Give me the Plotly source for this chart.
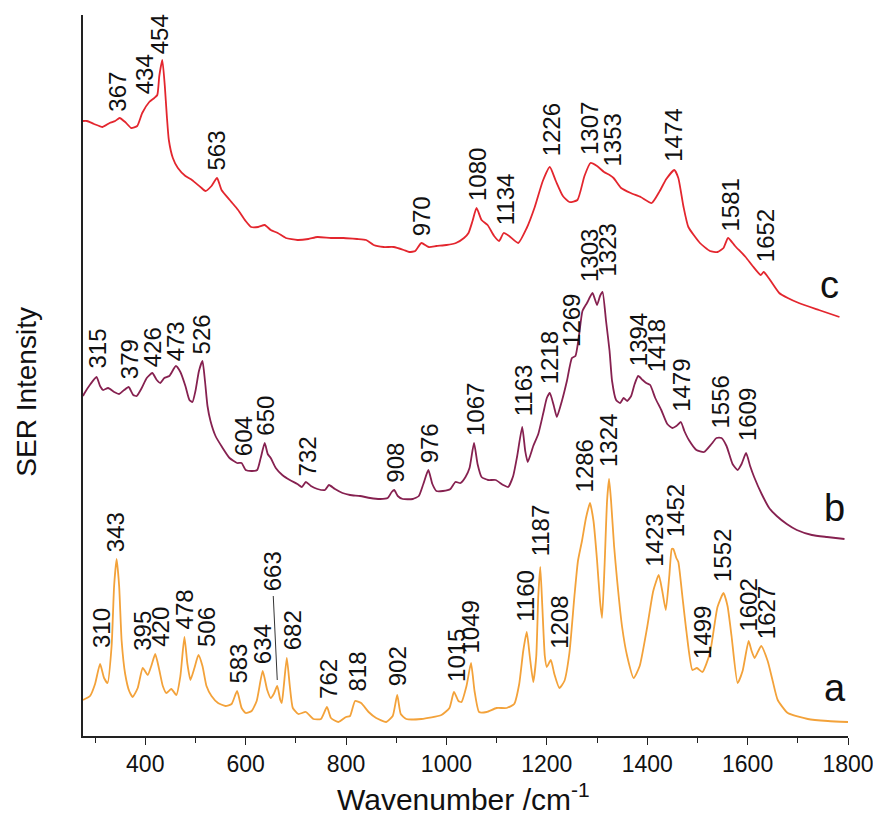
import plotly.graph_objects as go

# ---------------- data (wavenumber / cm-1, SER intensity a.u.) ----------------
wn_a = [276, 290, 300, 310, 318, 325, 333, 338, 343, 348, 353, 360, 368, 375, 385, 395, 405, 412, 420, 428,
        435, 442, 452, 462, 470, 478, 484, 490, 498, 506, 514, 522, 532, 545, 560, 572, 583, 592, 600, 612,
        622, 634, 643, 650, 656, 663, 669, 672, 676, 682, 688, 694, 705, 720, 735, 750, 762, 770, 785, 800,
        808, 818, 830, 845, 860, 880, 893, 902, 909, 920, 950, 990, 1006, 1015, 1024, 1030, 1040, 1049, 1056, 1065,
        1080, 1100, 1120, 1135, 1145, 1153, 1160, 1166, 1173, 1179, 1183, 1187, 1191, 1196, 1200, 1208, 1215, 1225, 1235, 1245,
        1255, 1262, 1270, 1278, 1286, 1293, 1300, 1306, 1310, 1315, 1320, 1324, 1328, 1334, 1340, 1350, 1360, 1373, 1385, 1400,
        1412, 1423, 1430, 1437, 1444, 1449, 1452, 1458, 1462, 1470, 1478, 1490, 1499, 1510, 1525, 1540, 1552, 1560, 1568, 1580,
        1590, 1602, 1608, 1614, 1627, 1640, 1650, 1660, 1680, 1720, 1760, 1800]
int_a = [36, 40, 52, 72, 58, 53, 90, 150, 177, 150, 95, 62, 45, 39, 48, 68, 61, 70, 82, 66,
         50, 43, 47, 41, 60, 99, 72, 56, 68, 81, 70, 50, 40, 33, 30, 32, 45, 28, 23, 25,
         35, 65, 46, 38, 42, 50, 36, 33, 50, 78, 50, 28, 22, 24, 17, 17, 29, 18, 14, 19,
         20, 35, 33, 24, 18, 14, 20, 41, 22, 17, 17, 21, 28, 44, 35, 34, 50, 73, 45, 24,
         24, 28, 28, 32, 52, 85, 104, 80, 54, 80, 140, 169, 130, 80, 69, 76, 62, 48, 55, 83,
         140, 175, 195, 218, 233, 215, 176, 135, 118, 170, 235, 257, 235, 190, 156, 109, 80, 58, 70, 109,
         145, 161, 145, 126, 160, 187, 187, 178, 174, 140, 105, 66, 68, 64, 83, 129, 143, 130, 100, 53,
         65, 95, 85, 78, 90, 75, 55, 36, 23, 17, 15, 14]

wn_b = [276, 278, 291, 303, 310, 316, 326, 338, 348, 358, 367, 376, 383, 393, 403, 414, 423, 430, 438, 448,
        461, 470, 480, 488, 494, 500, 507, 514, 519, 524, 530, 540, 553, 568, 583, 592, 600, 613, 623, 630,
        638, 644, 650, 660, 673, 688, 703, 712, 720, 730, 743, 758, 766, 778, 793, 808, 828, 848, 868, 883,
        891, 896, 903, 913, 933, 945, 954, 964, 972, 980, 993, 1008, 1018, 1028, 1038, 1046, 1055, 1062, 1070, 1083,
        1098, 1113, 1123, 1133, 1141, 1151, 1157, 1162, 1173, 1183, 1193, 1200, 1206, 1214, 1220, 1230, 1240, 1250, 1257, 1264,
        1271, 1280, 1291, 1300, 1306, 1311, 1318, 1325, 1330, 1338, 1346, 1353, 1360, 1368, 1375, 1382, 1391, 1398, 1406, 1416,
        1428, 1440, 1450, 1458, 1467, 1474, 1483, 1498, 1513, 1528, 1538, 1548, 1558, 1570, 1580, 1588, 1597, 1605, 1613, 1628,
        1643, 1658, 1678, 1698, 1728, 1758, 1793]
int_b = [340, 342, 352, 359, 350, 346, 348, 344, 342, 346, 349, 341, 340, 348, 358, 363, 356, 353, 358, 360,
         370, 364, 350, 336, 334, 345, 365, 375, 355, 330, 315, 300, 289, 278, 273, 273, 266, 265, 266, 278,
         293, 282, 278, 268, 261, 256, 252, 249, 254, 250, 247, 246, 251, 247, 243, 241, 240, 238, 237, 238,
         244, 246, 240, 237, 237, 240, 252, 266, 252, 245, 245, 247, 254, 253, 259, 268, 293, 272, 259, 256,
         256, 251, 249, 260, 280, 309, 285, 274, 290, 302, 323, 338, 343, 330, 319, 335, 355, 378, 380, 400,
         425, 433, 443, 431, 440, 444, 415, 385, 355, 336, 333, 338, 335, 340, 352, 360, 356, 353, 351, 338,
         326, 312, 308, 310, 314, 305, 296, 286, 284, 292, 298, 298, 290, 272, 266, 272, 283, 270, 259, 242,
         228, 220, 212, 206, 201, 199, 197]

wn_c = [276, 284, 298, 315, 329, 340, 349, 360, 372, 384, 394, 408, 418, 424, 428, 434, 439, 443, 447, 455,
        465, 480, 493, 510, 520, 532, 543, 552, 570, 585, 600, 611, 625, 638, 650, 664, 680, 703, 725, 743,
        770, 795, 822, 840, 855, 875, 895, 915, 926, 938, 950, 965, 980, 1000, 1019, 1035, 1044, 1052, 1060, 1070,
        1082, 1095, 1105, 1114, 1125, 1143, 1160, 1176, 1192, 1206, 1218, 1232, 1245, 1261, 1275, 1287, 1300, 1314, 1325, 1333,
        1348, 1367, 1387, 1409, 1425, 1438, 1454, 1462, 1472, 1482, 1505, 1525, 1540, 1552, 1561, 1575, 1596, 1610, 1626, 1632,
        1642, 1663, 1680, 1702, 1742, 1783]
int_c = [615, 615, 612, 609, 613, 615, 618, 614, 608, 610, 623, 634, 638, 641, 660, 676, 650, 620, 596, 578,
         568, 560, 556, 549, 545, 550, 558, 546, 535, 526, 515, 509, 509, 511, 506, 503, 498, 496, 497, 499,
         498, 498, 497, 496, 491, 489, 489, 486, 484, 485, 493, 489, 490, 491, 493, 498, 503, 515, 528, 516,
         511, 500, 495, 503, 500, 493, 508, 529, 555, 569, 555, 540, 534, 536, 560, 573, 570, 564, 561, 558,
         548, 543, 539, 533, 545, 557, 566, 558, 530, 509, 493, 485, 484, 488, 498, 490, 479, 470, 461, 464,
         458, 443, 438, 433, 426, 419]

assert len(wn_a) == len(int_a) and len(wn_b) == len(int_b) and len(wn_c) == len(int_c)

# peak labels (text) for each spectrum
labels_a = ["310", "343", "395", "420", "478", "506", "583", "634", "663", "682", "762", "818", "902",
            "1015", "1049", "1160", "1187", "1208", "1286", "1324", "1423", "1452", "1499", "1552", "1602", "1627"]
labels_b = ["315", "379", "426", "473", "526", "604", "650", "732", "908", "976", "1067", "1163", "1218",
            "1269", "1303", "1323", "1394", "1418", "1479", "1556", "1609"]
labels_c = ["367", "434", "454", "563", "970", "1080", "1134", "1226", "1307", "1353", "1474", "1581", "1652"]

# label placement (x in wavenumber, y = bottom of text in intensity units)
lab_x_a = [312, 340, 393, 429, 478, 521, 584, 633, 653, 693, 764, 821, 902,
           1020, 1047, 1156, 1187, 1225, 1276, 1323, 1414, 1457, 1510, 1550, 1601, 1638]
lab_y_a = [87, 183, 84, 88, 106, 88, 51, 71, 144, 85, 36, 43, 49,
           53, 81, 113, 179, 86, 243, 268, 168, 198, 76, 153, 103, 96]
lab_x_b = [303, 368, 414, 460, 512, 595, 638, 723, 897, 966, 1058, 1153, 1206,
           1249, 1285, 1320, 1383, 1419, 1468, 1545, 1600]
lab_y_b = [366, 356, 368, 374, 381, 279, 299, 259, 252, 272, 299, 319, 351,
           388, 453, 458, 369, 363, 323, 306, 294]
lab_x_c = [343, 398, 428, 540, 950, 1062, 1117, 1210, 1285, 1330, 1452, 1565, 1636]
lab_y_c = [623, 641, 681, 564, 499, 534, 510, 579, 580, 568, 573, 503, 473]

curve_names = ["a", "b", "c"]
curve_name_pos_x = [1775, 1773, 1764]
curve_name_pos_y = [48, 228, 451]

x_range = [276, 1800]
y_range = [0, 721]

# ---------------- styling ----------------
FONT = "Liberation Sans, Arial, sans-serif"
col_a = "#F3A23A"
col_b = "#862150"
col_c = "#E3262E"

fig = go.Figure()
for wn, inten, col in [(wn_a, int_a, col_a), (wn_b, int_b, col_b), (wn_c, int_c, col_c)]:
    fig.add_trace(go.Scatter(x=wn, y=inten, mode="lines",
                             line=dict(color=col, width=1.8, shape="spline", smoothing=0.5),
                             showlegend=False, hoverinfo="skip"))

annotations = []
for labs, lx, ly in [(labels_a, lab_x_a, lab_y_a), (labels_b, lab_x_b, lab_y_b), (labels_c, lab_x_c, lab_y_c)]:
    for t, x, y in zip(labs, lx, ly):
        annotations.append(dict(x=x, y=y, xref="x", yref="y", text=t, showarrow=False,
                                textangle=-90, xanchor="center", yanchor="bottom",
                                font=dict(family=FONT, size=24, color="#111111"), borderpad=0))

for t, x, y in zip(curve_names, curve_name_pos_x, curve_name_pos_y):
    annotations.append(dict(x=x, y=y, xref="x", yref="y", text=t, showarrow=False,
                            xanchor="center", yanchor="middle",
                            font=dict(family=FONT, size=38, color="#111111")))

# axis titles
annotations.append(dict(x=-0.075, y=0.477, xref="paper", yref="paper", text="SER Intensity",
                        showarrow=False, textangle=-90, xanchor="center", yanchor="middle",
                        font=dict(family=FONT, size=28, color="#111111")))
annotations.append(dict(x=0.497, y=-0.112, xref="paper", yref="paper", text="Wavenumber /cm<sup>-1</sup>",
                        showarrow=False, xanchor="center", yanchor="bottom", borderpad=0,
                        font=dict(family=FONT, size=30, color="#111111")))

# leader line for the 663 label of spectrum a
i663 = labels_a.index("663")
peak663 = int_a[wn_a.index(663)]
shapes = [dict(type="line", xref="x", yref="y",
               x0=lab_x_a[i663] + 2, y0=lab_y_a[i663] - 4,
               x1=663, y1=peak663 + 6,
               line=dict(color="#333333", width=1))]

# the page body has an 8 px margin, so the figure is made 8 px smaller and margins shifted
fig.update_layout(
    width=873, height=812,
    margin=dict(l=75, r=26, t=7, b=84),
    paper_bgcolor="white", plot_bgcolor="white",
    annotations=annotations, shapes=shapes,
    xaxis=dict(range=x_range, showgrid=False, zeroline=False,
               showline=True, linecolor="#222222", linewidth=1.6,
               ticks="outside", ticklen=7, tickwidth=1.4, tickcolor="#222222",
               tick0=0, dtick=200,
               minor=dict(ticks="outside", ticklen=5, tickwidth=1.2, tickcolor="#222222", dtick=100, showgrid=False),
               tickfont=dict(family=FONT, size=23, color="#111111")),
    yaxis=dict(range=y_range, showgrid=False, zeroline=False,
               showline=True, linecolor="#222222", linewidth=1.6,
               ticks="", showticklabels=False),
)

fig.write_html("out.html")
